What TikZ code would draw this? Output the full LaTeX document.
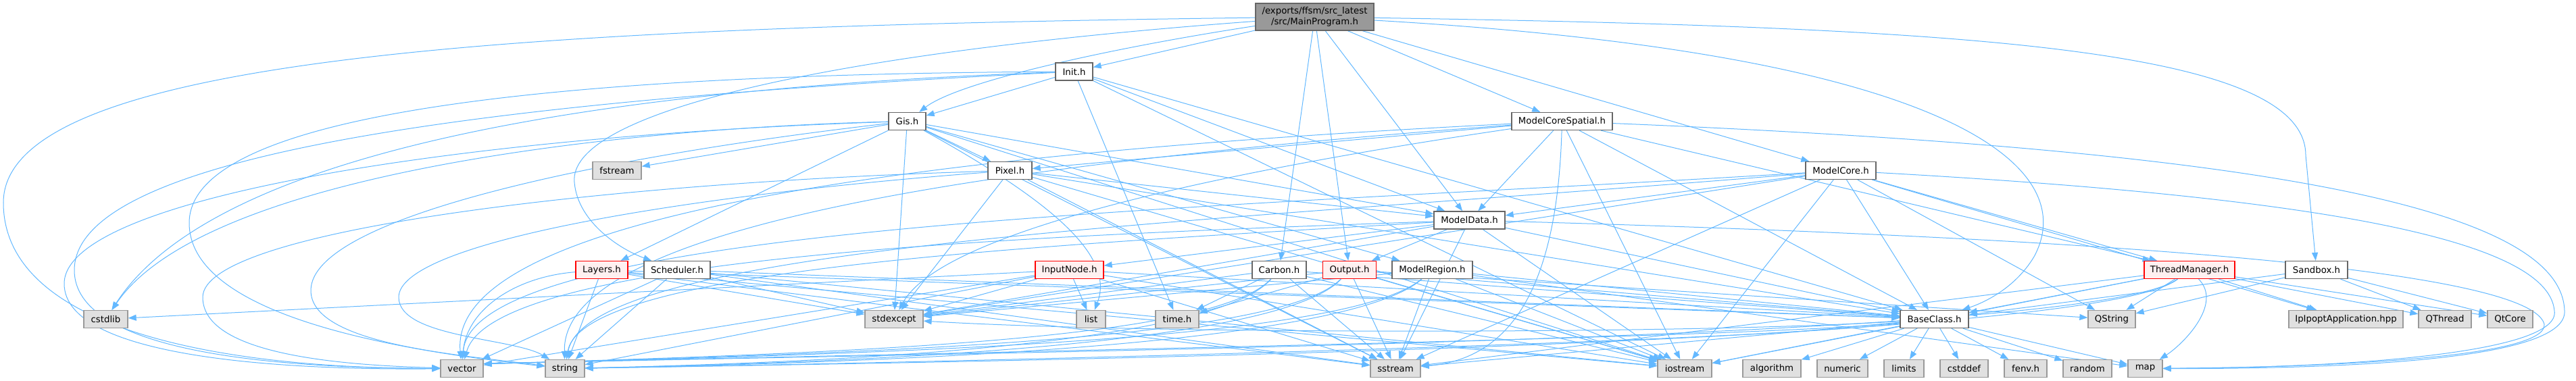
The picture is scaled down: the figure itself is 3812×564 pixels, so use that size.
\documentclass[tikz,border=0pt]{standalone}
\usepackage{fontspec}
\setmainfont{DejaVu Sans}
\usetikzlibrary{arrows.meta}
\definecolor{edgeblue}{HTML}{63B8FF}
\definecolor{extfill}{HTML}{E0E0E0}
\definecolor{extdraw}{HTML}{999999}
\definecolor{intdraw}{HTML}{666666}
\definecolor{rootfill}{HTML}{999999}
\definecolor{redfill}{HTML}{FFF0F0}
\pgfdeclarelayer{bg}
\pgfsetlayers{bg,main}
\begin{document}
\begin{tikzpicture}[x=1pt,y=-1pt,
 box/.style={rectangle, inner sep=0pt, minimum height=26pt, line width=1.3pt, font=\fontsize{13.3}{15.5}\selectfont},
 ext/.style={box, fill=extfill, draw=extdraw},
 int/.style={box, fill=white, draw=intdraw},
 redn/.style={box, fill=redfill, draw=red},
 root/.style={box, fill=rootfill, draw=intdraw, minimum height=40pt, align=center},
 e/.style={draw=edgeblue, line width=1pt, -{Triangle[length=12pt,width=9pt]}}]
\useasboundingbox (0,0) rectangle (3812,564);
% nodes
\node[root, minimum width=175pt] (M) at (1945.5,25) {/exports/ffsm/src\_latest\\/src/MainProgram.h};
\node[int, minimum width=55pt] (init) at (1589.5,106) {Init.h};
\node[int, minimum width=55pt] (gis) at (1342.5,179.5) {Gis.h};
\node[int, minimum width=149pt] (mcs) at (2311.5,179.5) {ModelCoreSpatial.h};
\node[ext, minimum width=72pt] (fstream) at (913,252.5) {fstream};
\node[int, minimum width=65pt] (pixel) at (1494.5,252.5) {Pixel.h};
\node[int, minimum width=104pt] (mc) at (2724,252.5) {ModelCore.h};
\node[int, minimum width=105pt] (md) at (2174.5,326) {ModelData.h};
\node[redn, minimum width=77pt] (layers) at (890.5,399.5) {Layers.h};
\node[int, minimum width=98pt] (sched) at (1002,399.5) {Scheduler.h};
\node[redn, minimum width=101pt] (inode) at (1582.5,399.5) {InputNode.h};
\node[int, minimum width=80pt] (carbon) at (1893,399.5) {Carbon.h};
\node[redn, minimum width=79pt] (output) at (1997,399.5) {Output.h};
\node[int, minimum width=119pt] (mreg) at (2119.5,399.5) {ModelRegion.h};
\node[redn, minimum width=134pt] (tm) at (3240,399.5) {ThreadManager.h};
\node[int, minimum width=92pt] (sandbox) at (3428,399.5) {Sandbox.h};
\node[ext, minimum width=65pt] (cstdlib) at (156.5,472.5) {cstdlib};
\node[ext, minimum width=86pt] (stdexcept) at (1323,472.5) {stdexcept};
\node[ext, minimum width=43pt] (list) at (1614.5,472.5) {list};
\node[ext, minimum width=64pt] (timeh) at (1742,472.5) {time.h};
\node[int, minimum width=101pt] (base) at (2862.5,472.5) {BaseClass.h};
\node[ext, minimum width=70pt] (qstring) at (3125,472.5) {QString};
\node[ext, minimum width=169pt] (ipopt) at (3471.5,472.5) {IpIpoptApplication.hpp};
\node[ext, minimum width=78pt] (qthread) at (3618,472.5) {QThread};
\node[ext, minimum width=67pt] (qtcore) at (3714.5,472.5) {QtCore};
\node[ext, minimum width=63pt] (vector) at (683.5,545.5) {vector};
\node[ext, minimum width=58pt] (string) at (836,545.5) {string};
\node[ext, minimum width=74pt] (sstream) at (2065,545.5) {sstream};
\node[ext, minimum width=80pt] (iostream) at (2493,545.5) {iostream};
\node[ext, minimum width=86pt] (algorithm) at (2622,545.5) {algorithm};
\node[ext, minimum width=75pt] (numeric) at (2726.5,545.5) {numeric};
\node[ext, minimum width=59pt] (limits) at (2817.5,545.5) {limits};
\node[ext, minimum width=71pt] (cstddef) at (2906.5,545.5) {cstddef};
\node[ext, minimum width=63pt] (fenv) at (2997.5,545.5) {fenv.h};
\node[ext, minimum width=72pt] (random) at (3089,545.5) {random};
\node[ext, minimum width=51pt] (map) at (3174.5,545.5) {map};
% edges
\begin{pgfonlayer}{bg}
\foreach \a/\b in {M/init, M/md, M/carbon, M/output, M/mcs, M/mc,
 init/gis, init/timeh, init/md, init/base, init/iostream,
 gis/pixel, gis/layers, gis/fstream, gis/stdexcept, gis/md, gis/mreg, gis/iostream, gis/sstream,
 mcs/md, mcs/pixel, mcs/tm, mcs/base, mcs/iostream,
 pixel/md, pixel/stdexcept, pixel/base, pixel/sstream, pixel/iostream,
 mc/md, mc/base, mc/tm, mc/ipopt, mc/iostream, mc/sstream, mc/stdexcept, mc/qstring,
 md/inode, md/output, md/base, md/iostream, md/sstream, md/stdexcept,
 layers/string, layers/base, layers/stdexcept, layers/iostream, layers/sstream,
 sched/vector, sched/string, sched/stdexcept, sched/base, sched/iostream, sched/sstream,
 inode/list, inode/stdexcept, inode/cstdlib, inode/vector, inode/string, inode/sstream, inode/iostream, inode/base,
 carbon/base, carbon/sstream, carbon/iostream, carbon/timeh, carbon/stdexcept,
 output/base, output/sstream, output/iostream, output/timeh, output/stdexcept, output/qstring,
 mreg/base, mreg/sstream, mreg/iostream, mreg/stdexcept, mreg/map,
 tm/base, tm/qstring, tm/qthread, tm/qtcore, tm/ipopt, tm/sstream, tm/iostream,
 sandbox/base, sandbox/qstring, sandbox/qthread, sandbox/qtcore,
 base/algorithm, base/numeric, base/limits, base/cstddef, base/fenv, base/random, base/map, base/sstream, base/iostream}
 \draw[e] (\a) -- (\b);
% curved edges
\draw[e] (M) .. controls (1650,70) and (1420,120) .. (gis);
\draw[e] (M) .. controls (2900,40) and (3412,70) .. (3412,230) -- (sandbox);
\draw[e] (M) .. controls (2900,80) and (3080,250) .. (3010,380) .. controls (2980,430) and (2930,450) .. (base);
\draw[e] (M) .. controls (800,40) and (5,80) .. (5,300) .. controls (5,480) and (300,545) .. (vector);
\draw[e] (M) .. controls (1200,80) and (840,170) .. (850,270) .. controls (855,330) and (920,370) .. (sched);
\draw[e] (init) .. controls (800,110) and (280,170) .. (280,330) .. controls (280,470) and (600,520) .. (string);
\draw[e] (init) .. controls (900,130) and (320,220) .. (cstdlib);
\draw[e] (init) .. controls (700,150) and (110,230) .. (110,400) .. controls (110,520) and (400,545) .. (vector);
\draw[e] (gis) .. controls (900,190) and (300,260) .. (cstdlib);
\draw[e] (gis) .. controls (700,200) and (95,290) .. (95,420) .. controls (95,530) and (420,548) .. (vector);
\draw[e] (gis) .. controls (900,230) and (460,320) .. (460,430) .. controls (460,510) and (680,525) .. (string);
\draw[e] (gis) .. controls (1560,300) and (1650,380) .. (list);
\draw[e] (pixel) .. controls (900,270) and (300,340) .. (300,440) .. controls (300,520) and (480,540) .. (vector);
\draw[e] (pixel) .. controls (1000,290) and (590,360) .. (590,440) .. controls (590,500) and (760,500) .. (string);
\draw[e] (mcs) .. controls (1500,220) and (660,300) .. (vector);
\draw[e] (mcs) .. controls (1500,240) and (830,330) .. (string);
\draw[e] (mcs) .. controls (1900,240) and (1400,330) .. (stdexcept);
\draw[e] (mcs) .. controls (2305,400) and (2250,530) .. (sstream);
\draw[e] (mcs) .. controls (3300,220) and (3790,300) .. (3795,460) .. controls (3800,530) and (3500,546) .. (map);
\draw[e] (mc) .. controls (1800,310) and (700,330) .. (vector);
\draw[e] (mc) .. controls (1800,330) and (870,360) .. (string);
\draw[e] (mc) .. controls (3400,290) and (3770,350) .. (3780,460) .. controls (3790,520) and (3500,544) .. (map);
\draw[e] (md) .. controls (1500,350) and (730,380) .. (vector);
\draw[e] (md) .. controls (1500,365) and (860,400) .. (string);
\draw[e] (md) .. controls (3400,360) and (3750,420) .. (3765,480) .. controls (3770,525) and (3500,543) .. (map);
\draw[e] (layers) .. controls (760,410) and (690,460) .. (vector);
\draw[e] (carbon) .. controls (1800,500) and (1300,522) .. ([yshift=7pt]vector.east);
\draw[e] (carbon) .. controls (1800,505) and (1300,535) .. (string);
\draw[e] (output) .. controls (1900,500) and (1350,522) .. ([yshift=7pt]vector.east);
\draw[e] (output) .. controls (1900,505) and (1350,535) .. (string);
\draw[e] (mreg) .. controls (2000,500) and (1400,522) .. ([yshift=7pt]vector.east);
\draw[e] (mreg) .. controls (2000,505) and (1400,535) .. (string);
\draw[e] (tm) .. controls (3100,505) and (1500,520) .. ([yshift=7pt]vector.east);
\draw[e] (tm) .. controls (3100,510) and (1500,535) .. (string);
\draw[e] (tm) .. controls (3290,450) and (3230,510) .. (map);
\draw[e] (base) .. controls (2600,500) and (1500,520) .. ([yshift=7pt]vector.east);
\draw[e] (base) .. controls (2600,505) and (1500,535) .. (string);
\draw[e] (base) .. controls (2500,495) and (1700,495) .. (stdexcept);
\end{pgfonlayer}
\end{tikzpicture}
\end{document}
